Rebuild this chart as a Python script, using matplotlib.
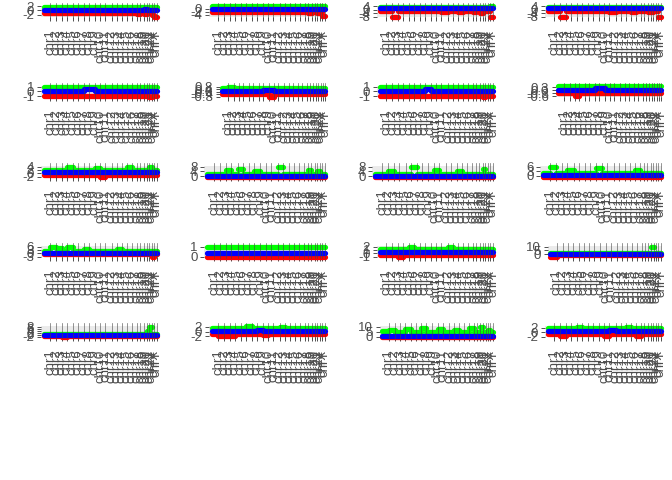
import matplotlib
matplotlib.use('Agg')
import matplotlib.pyplot as plt
import numpy as np

plt.rcParams['font.family'] = ['Liberation Sans', 'DejaVu Sans']
plt.rcParams['axes.unicode_minus'] = False

# chromosome labels and their width on the x axis (bins)
chroms = ['chr%d' % i for i in range(1, 23)] + ['chrX', 'chrY']
chrom_len = [20, 18, 17, 15, 18, 15, 17, 15, 18, 17, 15, 20, 15, 15, 15, 15, 15, 10, 10, 10, 7, 8, 7, 8]

# y ticks of each of the 20 panels
yticks_list = [
    [-2, 0, 2], [-4, -2, 0], [-8, -4, 0, 4], [-8, -4, 0, 4],
    [-1, 0, 1], [-0.8, -0.4, 0.0, 0.4, 0.8], [-1, 0, 1], [-0.6, -0.3, 0.0, 0.3, 0.6],
    [-2, 0, 2, 4], [0, 4, 8], [0, 4, 8], [0, 3, 6],
    [-3, 0, 3, 6], [0, 1], [-1, 0, 1, 2], [-10, -5, 0, 5, 10],
    [-2, 0, 2, 4, 6, 8], [-2, 0, 2], [0, 5, 10], [-2, 0, 2],
]

# usual level of each series per panel
green_base = [1.8, 1.3, 3.0, 3.0, 1.0, 0.6, 1.0, 0.35, 2.0, 1.5, 1.5, 1.5,
              1.8, 1.0, 1.3, 1.5, 1.0, 1.5, 5.0, 1.8]
blue_base = [0.3, -0.5, 1.5, 1.5, 0.1, 0.1, 0.1, 0.05, 0.5, 0.5, 0.5, 0.5,
             0.5, 0.4, 0.4, 0.0, 0.0, 0.3, 1.0, 0.6]
red_base = [-1.1, -2.0, -1.5, -1.5, -0.9, -0.35, -0.9, -0.25, -0.8, -0.3, -0.3, -0.5,
            -0.8, 0.0, -0.4, -1.0, -1.0, -0.8, 0.0, -0.6]

# (panel, chromosome index, value) where a series leaves its usual level
green_dev = [(0, 20, 1.5), (2, 23, 3.5), (3, 23, 3.5), (5, 1, 0.8),
             (8, 4, 3.5), (8, 9, 3.0), (8, 15, 4.0), (8, 21, 3.5),
             (9, 3, 5.0), (9, 5, 6.0), (9, 8, 4.0), (9, 12, 8.0), (9, 18, 5.0), (9, 21, 4.0),
             (10, 2, 4.0), (10, 6, 8.0), (10, 10, 5.0), (10, 14, 4.5), (10, 20, 6.0),
             (11, 1, 6.0), (11, 4, 4.0), (11, 9, 5.0), (11, 16, 3.5),
             (12, 1, 6.0), (12, 2, 5.0), (12, 4, 5.5), (12, 7, 4.0), (12, 13, 3.5),
             (14, 5, 2.0), (14, 12, 1.8), (15, 20, 10.0), (16, 20, 4.0), (16, 21, 8.0),
             (17, 6, 2.2), (17, 12, 2.0),
             (18, 0, 6.0), (18, 1, 7.0), (18, 4, 8.0), (18, 7, 9.0), (18, 10, 7.5),
             (18, 13, 6.5), (18, 16, 8.5), (18, 19, 10.0), (18, 22, 7.0),
             (19, 5, 2.5), (19, 14, 2.6)]
blue_dev = [(0, 19, 0.6), (4, 7, 0.45), (4, 8, 0.4), (5, 8, 0.3), (5, 9, 0.25),
            (6, 8, 0.45), (7, 7, 0.2), (7, 8, 0.2), (17, 8, 0.9), (19, 11, 1.0)]
red_dev = [(0, 17, -1.6), (0, 19, -1.7), (0, 22, -2.2), (0, 23, -2.8),
           (1, 18, -3.0), (1, 21, -2.8), (1, 23, -5.0),
           (2, 2, -8.0), (2, 11, -2.5), (2, 14, -2.5), (2, 17, -3.0), (2, 19, -3.5), (2, 23, -8.0),
           (3, 2, -7.5), (3, 11, -2.5), (3, 15, -2.5), (3, 19, -3.0), (3, 20, -3.0), (3, 23, -7.5),
           (4, 21, -1.1), (6, 20, -1.1),
           (5, 9, -0.8), (7, 3, -0.6), (8, 10, -2.0), (12, 22, -3.0), (14, 3, -1.0),
           (15, 0, -3.0), (16, 3, -2.0),
           (17, 1, -2.0), (17, 2, -1.8), (17, 3, -1.6), (17, 9, -1.5),
           (19, 2, -1.8), (19, 10, -1.5), (19, 16, -1.6)]


def series(base, dev, k):
    vals = np.full(len(chroms), base[k])
    for p, i, v in dev:
        if p == k:
            vals[i] = v
    return vals


ends = np.cumsum(chrom_len)
starts = ends - np.array(chrom_len)

W, H = 672, 480
fig = plt.figure(figsize=(W / 100, H / 100), dpi=100)
axes = []
for k in range(20):
    r, c = divmod(k, 4)
    cell_x = 168 * c
    top = 6 + 80 * r
    ax = fig.add_axes([(cell_x + 45) / W, 1 - (top + 11) / H, 113 / W, 11 / H])
    ax.set_facecolor('#EBEBEB')
    for sp in ax.spines.values():
        sp.set_visible(False)

    g = series(green_base, green_dev, k)
    b = series(blue_base, blue_dev, k)
    rd = series(red_base, red_dev, k)
    for vals, col in ((g, '#00FF00'), (rd, '#FF0000'), (b, '#0000FF')):
        lc = ax.hlines(vals, starts, ends, colors=col, linewidth=3.8, clip_on=False, zorder=2)
        lc.set_capstyle('round')

    allv = np.concatenate([g, b, rd])
    lo, hi = allv.min(), allv.max()
    pad = (hi - lo) * 0.05
    ylim = (lo - pad, hi + pad)
    ax.set_yticks([t for t in yticks_list[k] if ylim[0] <= t <= ylim[1]])
    ax.set_ylim(ylim)
    ax.set_xlim(-8, ends[-1] + 3)

    for e in ends:
        ax.axvline(e, ymin=-0.1, ymax=1.25, color='#444444', lw=0.5, alpha=0.8,
                   clip_on=False, zorder=3)

    ax.set_xticks(ends)
    ax.set_xticklabels(chroms, rotation=90, fontsize=9.5, color='#4D4D4D', va='top')
    ax.tick_params(axis='x', length=3, width=0.6, color='#333333', pad=6)
    ax.tick_params(axis='y', length=3, width=0.6, color='#333333', pad=2,
                   labelsize=9.5, labelcolor='#4D4D4D')
    axes.append(ax)

# shift each panel so its y labels start at the same place in the cell
fig.canvas.draw()
renderer = fig.canvas.get_renderer()
for k, ax in enumerate(axes):
    c = k % 4
    cell_x = 168 * c
    w = max([t.get_window_extent(renderer).width for t in ax.get_yticklabels()] + [6])
    left = cell_x + 23 + w + 6
    right = cell_x + 158
    pos = ax.get_position()
    ax.set_position([left / W, pos.y0, (right - left) / W, pos.height])

fig.savefig('out.png', dpi=100)
